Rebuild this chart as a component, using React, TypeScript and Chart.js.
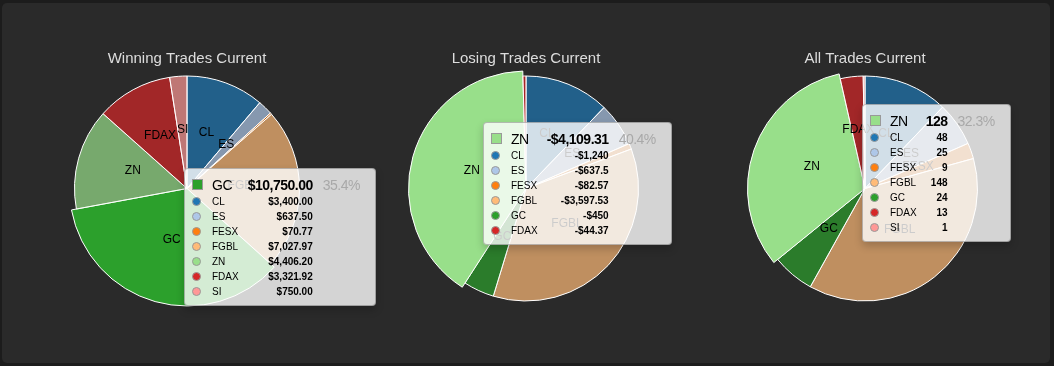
import React, { useEffect, useRef } from "react";
import { Chart, registerables } from "chart.js";

Chart.register(...registerables);

// ---------- data ----------
const winCategories = ["CL", "ES", "FESX", "FGBL", "GC", "ZN", "FDAX", "SI"];
const winValues = [3400, 637.5, 70.77, 7027.97, 10750, 4406.2, 3321.92, 750];

const loseCategories = ["CL", "ES", "FESX", "FGBL", "GC", "ZN", "FDAX"];
const loseValues = [-1240, -637.5, -82.57, -3597.53, -450, -4109.31, -44.37];

const allCategories = ["CL", "ES", "FESX", "FGBL", "GC", "ZN", "FDAX", "SI"];
const allValues = [48, 25, 9, 148, 24, 128, 13, 1];

const chartTitles = ["Winning Trades Current", "Losing Trades Current", "All Trades Current"];
const hoveredCategory = ["GC", "ZN", "ZN"];

const categoryColors: Record<string, string> = {
  CL: "#1f77b4",
  ES: "#aec7e8",
  FESX: "#ff7f0e",
  FGBL: "#ffbb78",
  GC: "#2ca02c",
  ZN: "#98df8a",
  FDAX: "#d62728",
  SI: "#ff9896",
};

// ---------- styling ----------
const FONT = "Arial, 'Liberation Sans', Helvetica, sans-serif";
const RADIUS = 112.5;
const GROW = 5;
const LABEL_THRESHOLD = 0.02;

function fade(hex: string, a: number) {
  const n = parseInt(hex.slice(1), 16);
  return `rgba(${(n >> 16) & 255},${(n >> 8) & 255},${n & 255},${a})`;
}

const fmtWin = (v: number) =>
  "$" + v.toLocaleString("en-US", { minimumFractionDigits: 2, maximumFractionDigits: 2 });
const fmtLose = (v: number) =>
  (v < 0 ? "-$" : "$") + Math.abs(v).toLocaleString("en-US", { maximumFractionDigits: 2 });
const fmtAll = (v: number) => String(v);

type PieProps = {
  title: string;
  cats: string[];
  vals: number[];
  hover: string;
  left: number;
};

function PieChart({ title, cats, vals, hover, left }: PieProps) {
  const ref = useRef<HTMLCanvasElement | null>(null);
  useEffect(() => {
    const abs = vals.map((v) => Math.abs(v));
    const total = abs.reduce((a, b) => a + b, 0);
    const hi = cats.indexOf(hover);

    const growPlugin = {
      id: "grow",
      beforeDatasetsDraw(chart: any) {
        const el = chart.getDatasetMeta(0).data[hi] as any;
        if (el) el.outerRadius = RADIUS + GROW;
      },
    };
    const labelPlugin = {
      id: "sliceLabels",
      afterDatasetsDraw(chart: any) {
        const ctx = chart.ctx as CanvasRenderingContext2D;
        const meta = chart.getDatasetMeta(0);
        ctx.save();
        ctx.font = `12px ${FONT}`;
        ctx.fillStyle = "#000";
        ctx.textAlign = "center";
        ctx.textBaseline = "middle";
        meta.data.forEach((el: any, i: number) => {
          if (abs[i] / total < LABEL_THRESHOLD) return;
          const mid = (el.startAngle + el.endAngle) / 2;
          const r = RADIUS / 2;
          ctx.fillText(cats[i], el.x + Math.cos(mid) * r, el.y + Math.sin(mid) * r - 3);
        });
        ctx.restore();
      },
    };

    const chart = new Chart(ref.current as HTMLCanvasElement, {
      type: "pie",
      data: {
        labels: cats,
        datasets: [
          {
            data: abs,
            backgroundColor: cats.map((c, i) =>
              i === hi ? categoryColors[c] : fade(categoryColors[c], 0.7)
            ),
            borderColor: "#ffffff",
            borderWidth: 1,
            hoverOffset: 0,
            radius: RADIUS,
          } as any,
        ],
      },
      options: {
        responsive: false,
        animation: false,
        events: [],
        layout: { padding: { bottom: 56.5 } },
        plugins: {
          legend: { display: false },
          tooltip: { enabled: false },
          title: {
            display: true,
            text: title,
            color: "#dddddd",
            font: { size: 15, family: FONT, weight: "normal" as any },
            padding: { top: 49.5, bottom: 0 },
          },
        },
      },
      plugins: [growPlugin, labelPlugin],
    });
    return () => chart.destroy();
  }, []);
  return (
    <canvas
      ref={ref}
      width={340}
      height={366}
      style={{ position: "absolute", left, top: 0, width: 340, height: 366 }}
    />
  );
}

type TipProps = {
  cats: string[];
  vals: number[];
  hover: string;
  fmt: (v: number) => string;
  left: number;
  top: number;
};

function Tip({ cats, vals, hover, fmt, left, top }: TipProps) {
  const abs = vals.map((v) => Math.abs(v));
  const total = abs.reduce((a, b) => a + b, 0);
  const hi = cats.indexOf(hover);
  const pct = ((abs[hi] / total) * 100).toFixed(1) + "%";
  const rows = cats.map((c, i) => ({ c, v: vals[i] })).filter((_, i) => i !== hi);
  const head = { fontSize: 14, letterSpacing: "-0.5px" };
  return (
    <div
      style={{
        position: "absolute",
        left,
        top,
        background: "rgba(255,255,255,0.8)",
        border: "1px solid rgba(0,0,0,0.25)",
        borderRadius: 4,
        padding: "6px 15px 6px 7px",
        fontFamily: FONT,
        color: "#000",
        boxShadow: "0 4px 8px rgba(0,0,0,0.2)",
      }}
    >
      <div
        style={{
          display: "grid",
          gridTemplateColumns: "11px auto auto auto",
          gridTemplateRows: `19px repeat(${rows.length}, 15px)`,
          columnGap: 9,
          alignItems: "center",
          whiteSpace: "nowrap",
        }}
      >
        <div
          style={{
            width: 9,
            height: 9,
            background: categoryColors[hover],
            border: "1px solid #999",
          }}
        />
        <div style={head}>{hover}</div>
        <div style={{ ...head, fontWeight: "bold", textAlign: "right" }}>{fmt(vals[hi])}</div>
        <div style={{ ...head, color: "#a9a9a9", paddingLeft: 1 }}>{pct}</div>
        {rows.map((r) => (
          <React.Fragment key={r.c}>
            <div
              style={{
                width: 7,
                height: 7,
                borderRadius: "50%",
                background: categoryColors[r.c],
                border: "1px solid #999",
              }}
            />
            <div style={{ fontSize: 10 }}>{r.c}</div>
            <div style={{ fontSize: 10, fontWeight: "bold", textAlign: "right" }}>{fmt(r.v)}</div>
            <div />
          </React.Fragment>
        ))}
      </div>
    </div>
  );
}

export default function App() {
  return (
    <div
      style={{
        position: "fixed",
        left: 0,
        top: 0,
        width: 1054,
        height: 366,
        background: "#1c1c1c",
        overflow: "hidden",
      }}
    >
      <div
        style={{
          position: "absolute",
          left: 2,
          top: 3,
          width: 1048,
          height: 360,
          background: "#2a2a2a",
          borderRadius: 5,
        }}
      />
      <PieChart title={chartTitles[0]} cats={winCategories} vals={winValues} hover={hoveredCategory[0]} left={17} />
      <PieChart title={chartTitles[1]} cats={loseCategories} vals={loseValues} hover={hoveredCategory[1]} left={356} />
      <PieChart title={chartTitles[2]} cats={allCategories} vals={allValues} hover={hoveredCategory[2]} left={695} />
      <Tip cats={winCategories} vals={winValues} hover={hoveredCategory[0]} fmt={fmtWin} left={184} top={168} />
      <Tip cats={loseCategories} vals={loseValues} hover={hoveredCategory[1]} fmt={fmtLose} left={483} top={122} />
      <Tip cats={allCategories} vals={allValues} hover={hoveredCategory[2]} fmt={fmtAll} left={862} top={104} />
    </div>
  );
}
